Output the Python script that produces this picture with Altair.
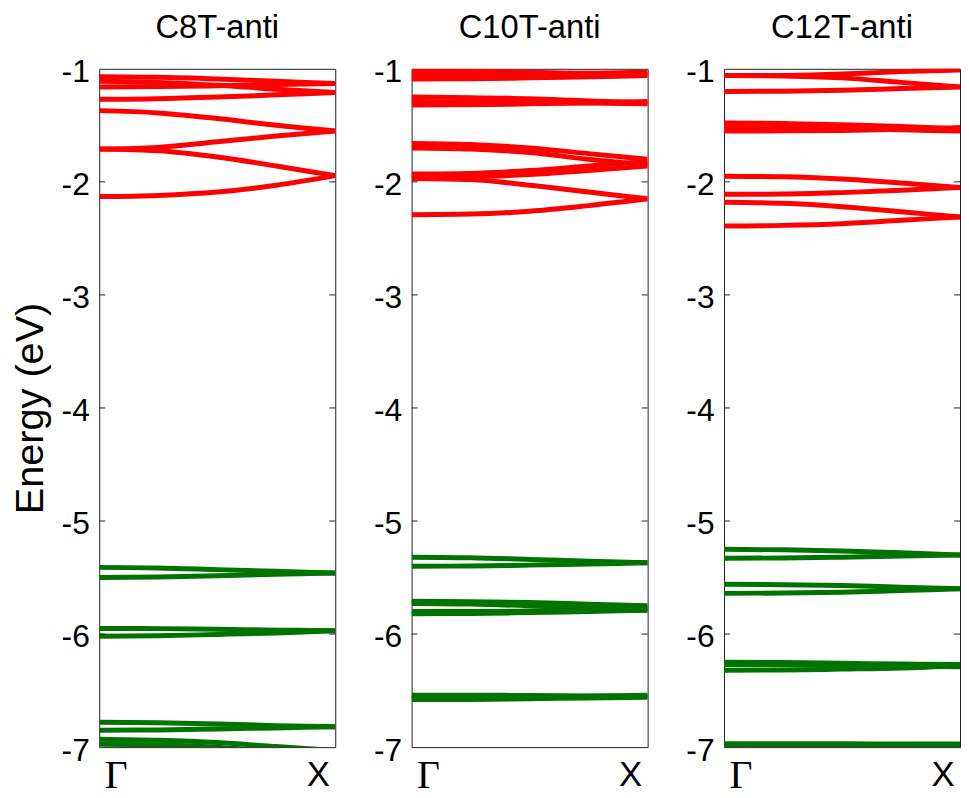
import altair as alt
import pandas as pd

# k-path sample points (Γ = 0, X = 1)
K = [0.0, 0.25, 0.5, 0.75, 1.0]
PANELS = ["C8T-anti", "C10T-anti", "C12T-anti"]

# Conduction bands (red), energies in eV at each K
C8T_COND = [
    [-1.07, -1.075, -1.09, -1.11, -1.13],
    [-1.11, -1.12, -1.145, -1.18, -1.21],
    [-1.16, -1.157, -1.15, -1.14, -1.13],
    [-1.27, -1.265, -1.25, -1.23, -1.21],
    [-1.37, -1.39, -1.44, -1.50, -1.55],
    [-1.71, -1.695, -1.645, -1.595, -1.55],
    [-1.71, -1.725, -1.78, -1.86, -1.945],
    [-2.13, -2.12, -2.09, -2.03, -1.945],
]
C10T_COND = [
    [-1.02, -1.022, -1.03, -1.04, -1.05],
    [-1.06, -1.058, -1.05, -1.04, -1.03],
    [-1.09, -1.088, -1.08, -1.07, -1.06],
    [-1.25, -1.255, -1.265, -1.285, -1.30],
    [-1.29, -1.292, -1.297, -1.303, -1.31],
    [-1.32, -1.318, -1.31, -1.30, -1.29],
    [-1.66, -1.67, -1.70, -1.75, -1.80],
    [-1.70, -1.71, -1.74, -1.80, -1.85],
    [-1.93, -1.925, -1.90, -1.86, -1.82],
    [-1.96, -1.955, -1.935, -1.90, -1.86],
    [-1.97, -1.98, -2.03, -2.09, -2.15],
    [-2.29, -2.285, -2.26, -2.21, -2.15],
]
C12T_COND = [
    [-1.06, -1.058, -1.045, -1.025, -1.01],
    [-1.06, -1.063, -1.08, -1.12, -1.16],
    [-1.20, -1.198, -1.19, -1.175, -1.16],
    [-1.48, -1.483, -1.495, -1.51, -1.53],
    [-1.52, -1.522, -1.53, -1.54, -1.55],
    [-1.55, -1.549, -1.545, -1.535, -1.52],
    [-1.95, -1.955, -1.975, -2.01, -2.05],
    [-2.11, -2.108, -2.095, -2.075, -2.05],
    [-2.18, -2.19, -2.22, -2.265, -2.31],
    [-2.39, -2.385, -2.37, -2.34, -2.31],
]

# Valence bands (green)
C8T_VAL = [
    [-5.41, -5.415, -5.43, -5.445, -5.46],
    [-5.50, -5.495, -5.485, -5.47, -5.46],
    [-5.95, -5.952, -5.958, -5.965, -5.97],
    [-6.02, -6.015, -6.003, -5.99, -5.97],
    [-6.78, -6.785, -6.795, -6.81, -6.82],
    [-6.85, -6.848, -6.84, -6.83, -6.82],
    [-6.93, -6.94, -6.96, -6.995, -7.03],
    [-6.975, -6.98, -7.0, -7.04, -7.08],
]
C10T_VAL = [
    [-5.32, -5.325, -5.34, -5.355, -5.37],
    [-5.40, -5.398, -5.39, -5.38, -5.37],
    [-5.71, -5.713, -5.72, -5.735, -5.75],
    [-5.73, -5.735, -5.75, -5.77, -5.79],
    [-5.80, -5.80, -5.795, -5.785, -5.775],
    [-5.82, -5.818, -5.81, -5.80, -5.79],
    [-6.54, -6.541, -6.543, -6.547, -6.55],
    [-6.58, -6.578, -6.572, -6.565, -6.56],
    [-6.57, -6.568, -6.56, -6.55, -6.54],
]
C12T_VAL = [
    [-5.25, -5.255, -5.265, -5.28, -5.30],
    [-5.33, -5.327, -5.32, -5.31, -5.30],
    [-5.56, -5.563, -5.57, -5.585, -5.60],
    [-5.64, -5.637, -5.63, -5.615, -5.60],
    [-6.25, -6.252, -6.258, -6.265, -6.27],
    [-6.27, -6.272, -6.277, -6.283, -6.29],
    [-6.32, -6.318, -6.31, -6.30, -6.28],
    [-6.97, -6.97, -6.971, -6.972, -6.973],
    [-6.98, -6.98, -6.981, -6.982, -6.983],
]

Y_TICKS = [-7, -6, -5, -4, -3, -2, -1]
INNER_TICKS = [-6, -5, -4, -3, -2]
K_TICKS = [0, 1]

RED = "#ff0000"
GREEN = "#007300"
W, H = 238, 684
SANS = "Liberation Sans"
SERIF = "Liberation Serif"


def build_df(cond, val):
    rows = []
    for kind, bands in (("cond", cond), ("val", val)):
        for b, energies in enumerate(bands):
            for k, e in zip(K, energies):
                rows.append({"k": k, "E": e, "band": f"{kind}{b}", "kind": kind})
    return pd.DataFrame(rows)


def panel(name, cond, val, first):
    df = build_df(cond, val)
    ytitle = {"title": "Energy (eV)"} if first else {"title": None}
    xs = alt.X(
        "k:Q",
        scale=alt.Scale(domain=[0, 1], nice=False, zero=False),
        axis=alt.Axis(
            values=K_TICKS,
            labelExpr="datum.value == 0 ? 'Γ' : 'X'",
            ticks=False, grid=False, domain=False, labelFlush=False,
            labelColor="black",
            labelFont={"condition": {"test": "datum.value == 0", "value": SERIF}, "value": SANS},
            labelFontSize={"condition": {"test": "datum.value == 0", "value": 40}, "value": 35},
            labelAlign={"condition": {"test": "datum.value == 0", "value": "left"}, "value": "right"},
            labelOffset={"condition": {"test": "datum.value == 0", "value": 5}, "value": -6},
            labelPadding={"condition": {"test": "datum.value == 0", "value": 41}, "value": 39},
            labelBaseline="alphabetic",
        ),
        title=None,
    )
    ys = alt.Y(
        "E:Q",
        scale=alt.Scale(domain=[-7, -1], nice=False, zero=False),
        axis=alt.Axis(
            values=Y_TICKS,
            labelExpr="'' + datum.value",
            ticks=False, grid=False, domain=False,
            labelColor="black", labelFont=SANS, labelFontSize=32,
            labelPadding=10, labelBaseline="middle", labelOffset=3,
            titleFont=SANS, titleFontSize=40, titleFontWeight="normal",
            titleColor="black", titlePadding=11,
        ),
        **ytitle,
    )
    lines = alt.Chart(df).mark_line(
        strokeWidth=5, interpolate="monotone", clip=True
    ).encode(
        x=xs,
        y=ys,
        detail="band:N",
        order="k:Q",
        color=alt.Color("kind:N", scale=alt.Scale(domain=["cond", "val"], range=[RED, GREEN]), legend=None),
    )
    tdf = pd.DataFrame({"E": INNER_TICKS})
    left_ticks = alt.Chart(tdf).mark_rule(color="#222", strokeWidth=1).encode(
        y=alt.Y("E:Q", scale=alt.Scale(domain=[-7, -1])),
        x=alt.value(0), x2=alt.value(6),
    )
    right_ticks = alt.Chart(tdf).mark_rule(color="#222", strokeWidth=1).encode(
        y=alt.Y("E:Q", scale=alt.Scale(domain=[-7, -1])),
        x=alt.value(W - 6), x2=alt.value(W),
    )
    return alt.layer(lines, left_ticks, right_ticks).properties(
        width=W, height=H,
        title=alt.TitleParams(
            text=name, font=SANS, fontSize=33, fontWeight="normal", color="black",
            anchor="middle", baseline="alphabetic", offset=-15,
        ),
    )


chart = alt.hconcat(
    panel(PANELS[0], C8T_COND, C8T_VAL, True),
    panel(PANELS[1], C10T_COND, C10T_VAL, False),
    panel(PANELS[2], C12T_COND, C12T_VAL, False),
    spacing=37,
).properties(
    padding={"left": 2, "top": 0, "right": 0, "bottom": 0},
    background="white",
).configure_view(
    stroke="#222", strokeWidth=1
)

chart.save("out.html", embed_options={"renderer": "svg", "actions": False})
